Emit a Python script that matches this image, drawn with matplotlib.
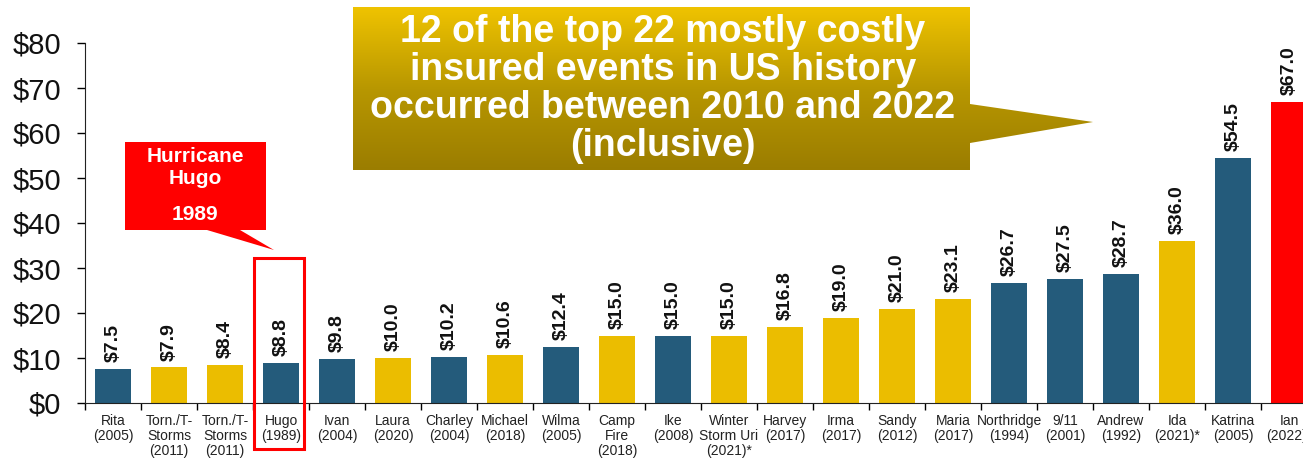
import matplotlib.pyplot as plt
import numpy as np
from matplotlib.colors import LinearSegmentedColormap
from matplotlib.patches import Polygon, Rectangle

plt.rcParams['font.family'] = ['Liberation Sans', 'DejaVu Sans']

events = ["Rita\n(2005)", "Torn./T-\nStorms\n(2011)", "Torn./T-\nStorms\n(2011)", "Hugo\n(1989)",
          "Ivan\n(2004)", "Laura\n(2020)", "Charley\n(2004)", "Michael\n(2018)", "Wilma\n(2005)",
          "Camp\nFire\n(2018)", "Ike\n(2008)", "Winter\nStorm Uri\n(2021)*", "Harvey\n(2017)",
          "Irma\n(2017)", "Sandy\n(2012)", "Maria\n(2017)", "Northridge\n(1994)", "9/11\n(2001)",
          "Andrew\n(1992)", "Ida\n(2021)*", "Katrina\n(2005)", "Ian\n(2022)*"]
losses = [7.5, 7.9, 8.4, 8.8, 9.8, 10.0, 10.2, 10.6, 12.4, 15.0, 15.0, 15.0, 16.8,
          19.0, 21.0, 23.1, 26.7, 27.5, 28.7, 36.0, 54.5, 67.0]
# b = older event, g = 2010-2022, r = Ian
kinds = ['b', 'g', 'g', 'b', 'b', 'g', 'b', 'g', 'b', 'g', 'b', 'g', 'g',
         'g', 'g', 'g', 'b', 'b', 'b', 'g', 'b', 'r']
yticks = [0, 10, 20, 30, 40, 50, 60, 70, 80]
palette = {'b': '#245b7b', 'g': '#ebbd00', 'r': '#ff0000'}

W, H = 1303, 459
fig = plt.figure(figsize=(W / 100, H / 100), dpi=100)
ax = fig.add_axes([85 / W, 1 - 403 / H, 1232 / W, 360 / H])

x = np.arange(len(losses))
ax.bar(x, losses, width=0.64, color=[palette[k] for k in kinds], zorder=2)
for xi, v in zip(x, losses):
    ax.annotate(f"${v:.1f}", (xi, v), xytext=(0, 5), textcoords='offset points',
                rotation=90, ha='center', va='bottom', fontsize=14, fontweight='bold', color='#111')

ax.set_xlim(-0.5, len(losses) - 0.5)
ax.set_ylim(0, 80)
ax.set_yticks(yticks)
ax.set_yticklabels([f"${v}" for v in yticks], fontsize=21, color='#111')
ax.set_xticks(x)
ax.set_xticklabels(events, fontsize=10, linespacing=1.1, color='#222')
ax.set_xticks(np.arange(-0.5, len(losses)), minor=True)
ax.tick_params(axis='x', which='major', length=0, pad=8)
ax.tick_params(axis='x', which='minor', length=5, width=1)
ax.tick_params(axis='y', length=6, width=1, pad=11)
for s in ('top', 'right'):
    ax.spines[s].set_visible(False)
ax.spines['left'].set_color('#222')
ax.spines['bottom'].set_color('#222')

# overlay in pixel coordinates for the callouts
ov = fig.add_axes([0, 0, 1, 1], zorder=5)
ov.patch.set_alpha(0)

gold_shape = Polygon([(353, 7), (970, 7), (970, 104), (1093, 122), (970, 143), (970, 170), (353, 170)],
                     closed=True, facecolor='none', edgecolor='none')
ov.add_patch(gold_shape)
grad = np.linspace(0, 1, 256)[:, None]
cmap = LinearSegmentedColormap.from_list('goldgrad', ['#efc300', '#b89700', '#9b7d00'])
img = ov.imshow(grad, extent=(353, 1093, 170, 7), aspect='auto', cmap=cmap)
img.set_clip_path(gold_shape)
ov.text(663, 89, "12 of the top 22 mostly costly\ninsured events in US history\noccurred between 2010 and 2022\n(inclusive)",
        ha='center', va='center', color='white', fontsize=27, fontweight='bold', linespacing=1.08)

red_shape = Polygon([(125, 142), (266, 142), (266, 230), (240, 230), (274, 250), (207, 230), (125, 230)],
                    closed=True, facecolor='#ff0000', edgecolor='none')
ov.add_patch(red_shape)
ov.text(195, 156, "Hurricane", ha='center', va='center', color='white', fontsize=15, fontweight='bold')
ov.text(195, 179, "Hugo", ha='center', va='center', color='white', fontsize=15, fontweight='bold')
ov.text(195, 214, "1989", ha='center', va='center', color='white', fontsize=15, fontweight='bold')

ov.add_patch(Rectangle((254, 258), 50, 191, fill=False, edgecolor='#ff0000', linewidth=2.2))

ov.set_xlim(0, W)
ov.set_ylim(H, 0)
ov.axis('off')

fig.savefig('out.png', dpi=100)
